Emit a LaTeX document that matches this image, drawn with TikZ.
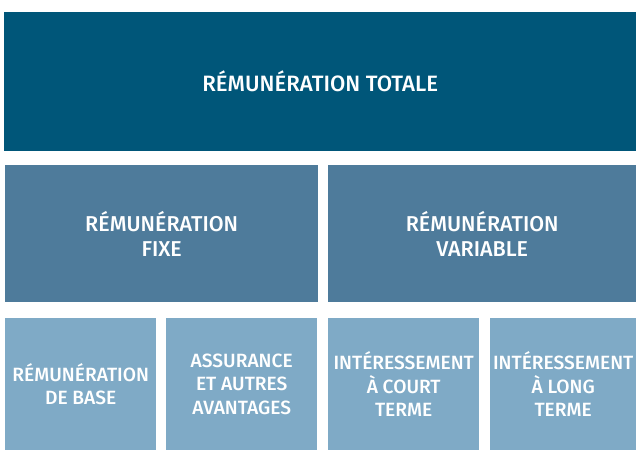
\documentclass[tikz,border=0pt]{standalone}
\usepackage{fontspec}
\setmainfont{Fira Sans}[BoldFont={Fira Sans Medium}]
\usepackage{xcolor}
\usetikzlibrary{positioning}

\definecolor{totalblue}{RGB}{0,86,121}
\definecolor{midblue}{RGB}{78,123,155}
\definecolor{leafblue}{RGB}{127,170,198}

\begin{document}
\begin{tikzpicture}[x=1pt, y=-1pt,
  tile/.style={anchor=north west, inner sep=0pt, align=center, text=white},
  totalbox/.style={tile, fill=totalblue, minimum width=632pt, minimum height=139pt,
                   font=\bfseries\fontsize{22.2}{25}\selectfont},
  midbox/.style={tile, fill=midblue, minimum width=313pt, minimum height=137pt,
                 font=\bfseries\fontsize{21.5}{25}\selectfont},
  leafbox/.style={tile, fill=leafblue, minimum width=151pt, minimum height=132pt,
                  font=\bfseries\fontsize{19.2}{23.5}\selectfont}]
\useasboundingbox (0,0) rectangle (636,450);
% top level
\node[totalbox] (total) at (4,12) {RÉMUNÉRATION TOTALE};
% second level
\node[midbox] (fixe) at (5,165) {RÉMUNÉRATION\\FIXE};
\node[midbox, minimum width=308pt] (variable) at (328,165) {RÉMUNÉRATION\\VARIABLE};
% components
\node[leafbox] (base) at (5,318) {RÉMUNÉRATION\\DE BASE};
\node[leafbox] (assur) at (166,318) {ASSURANCE\\ET AUTRES\\AVANTAGES};
\node[leafbox] (court) at (328,318) {INTÉRESSEMENT\\À COURT\\TERME};
\node[leafbox, minimum width=146pt] (long) at (490,318) {INTÉRESSEMENT\\À LONG\\TERME};
\end{tikzpicture}
\end{document}
